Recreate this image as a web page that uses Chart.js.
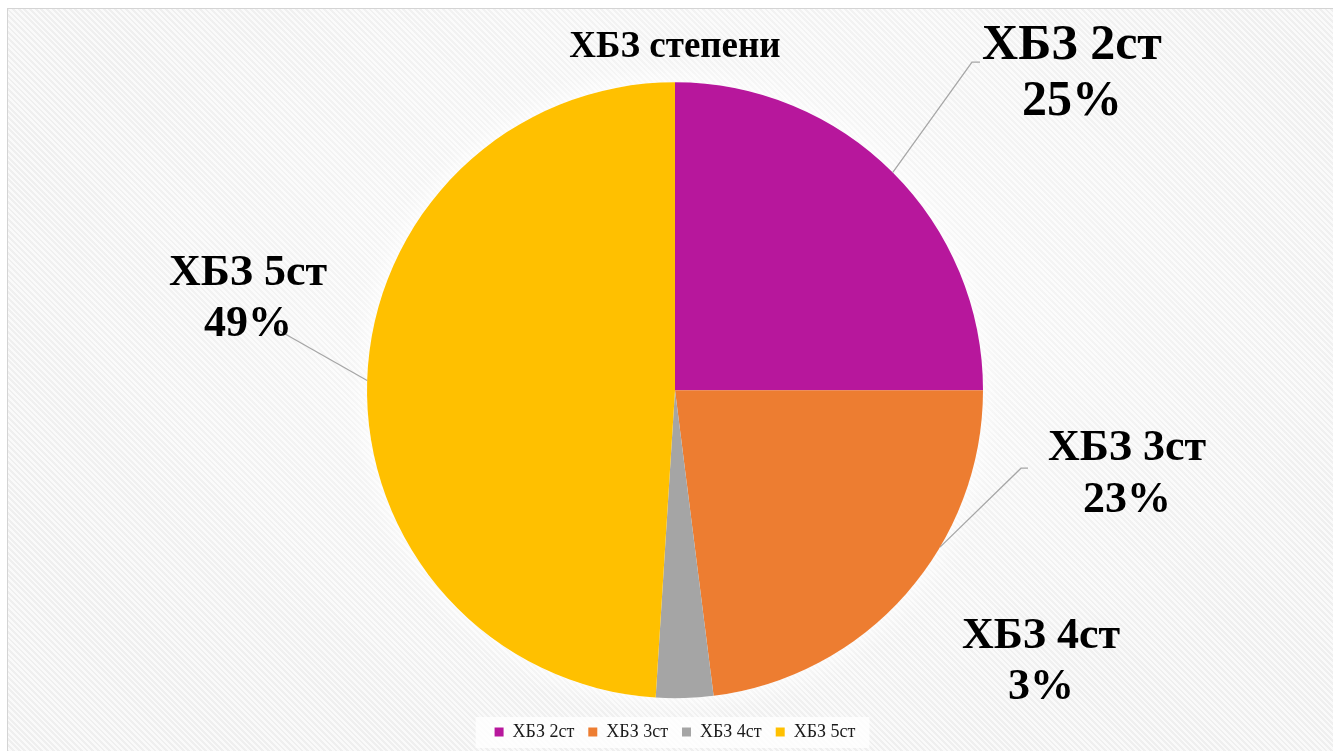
<!DOCTYPE html>
<html>
<head>
<meta charset="utf-8">
<script src="https://cdn.jsdelivr.net/npm/chart.js@4.4.1/dist/chart.umd.min.js"></script>
<style>
  html, body { margin: 0; padding: 0; background: #fff; overflow: hidden; }
  #wrap { position: relative; width: 1333px; height: 751px; }
  #frame {
    position: absolute; left: 7px; top: 8px; width: 1340px; height: 760px;
    border-left: 1px solid #d4d4d4; border-top: 1px solid #d4d4d4;
    background:
      radial-gradient(ellipse 55% 60% at 52% 40%, rgba(255,255,255,0.65), rgba(255,255,255,0) 100%),
      repeating-linear-gradient(45deg, #efefef 0px, #efefef 2px, #fafafa 2px, #fafafa 4px);
  }
  #cnv { position: absolute; left: 0; top: 0; }
</style>
</head>
<body>
<div id="wrap">
  <div id="frame"></div>
  <canvas id="cnv" width="1333" height="751"></canvas>
</div>
<script>
const categories = ['ХБЗ 2ст', 'ХБЗ 3ст', 'ХБЗ 4ст', 'ХБЗ 5ст'];
const shares = [25, 23, 3, 49];
const sliceColors = ['#B7179C', '#ED7D31', '#A5A5A5', '#FFC000'];

// where each outside label sits, relative to the pie centre;
// lead = elbow of the leader line (null = no line), along = where on the arc it starts
const labelSpots = [
  { dx: 397, dy: -344, size: 50, gap: 56, lead: [297, -328, 305], along: 0.5 },
  { dx: 452, dy: 58,   size: 44, gap: 52, lead: [346, 78, 353],   along: 0.37 },
  { dx: 366, dy: 246,  size: 44, gap: 51, lead: null,             along: 0.5 },
  { dx: -427, dy: -117, size: 44, gap: 51, lead: [-400, -62, -400], along: 0.5 }
];

const total = shares.reduce((a, b) => a + b, 0);
const serif = "'Liberation Serif', 'Times New Roman', serif";

// soft white halo behind the pie
const glowPlugin = {
  id: 'glow',
  beforeDatasetsDraw(chart) {
    const arc = chart.getDatasetMeta(0).data[0];
    if (!arc) return;
    const ctx = chart.ctx;
    ctx.save();
    ctx.shadowColor = 'rgba(255,255,255,1)';
    ctx.shadowBlur = 28;
    ctx.fillStyle = '#ffffff';
    ctx.beginPath();
    ctx.arc(arc.x, arc.y, arc.outerRadius, 0, Math.PI * 2);
    ctx.fill();
    ctx.restore();
  }
};

const legendBackPlugin = {
  id: 'legendBack',
  beforeDraw(chart) {
    const boxes = chart.legend && chart.legend.legendHitBoxes;
    if (!boxes || !boxes.length) return;
    const left = Math.min(...boxes.map(b => b.left)) - 19;
    const right = Math.max(...boxes.map(b => b.left + b.width)) + 14;
    const ctx = chart.ctx;
    ctx.save();
    ctx.fillStyle = 'rgba(255,255,255,0.8)';
    ctx.fillRect(left, 717, right - left, 31);
    ctx.restore();
  }
};

const outsideLabels = {
  id: 'outsideLabels',
  afterDatasetsDraw(chart) {
    const ctx = chart.ctx;
    const arcs = chart.getDatasetMeta(0).data;
    ctx.save();
    arcs.forEach((arc, i) => {
      const spot = labelSpots[i];
      const cx = arc.x, cy = arc.y;
      if (spot.lead) {
        const a = arc.startAngle + (arc.endAngle - arc.startAngle) * spot.along;
        const sx = cx + Math.cos(a) * arc.outerRadius;
        const sy = cy + Math.sin(a) * arc.outerRadius;
        ctx.strokeStyle = '#a6a6a6';
        ctx.lineWidth = 1.3;
        ctx.beginPath();
        ctx.moveTo(sx, sy);
        ctx.lineTo(cx + spot.lead[0], cy + spot.lead[1]);
        ctx.lineTo(cx + spot.lead[2], cy + spot.lead[1]);
        ctx.stroke();
      }
      const pct = Math.round(shares[i] / total * 100) + '%';
      ctx.fillStyle = '#000';
      ctx.textAlign = 'center';
      ctx.textBaseline = 'middle';
      ctx.font = `bold ${spot.size}px ${serif}`;
      ctx.fillText(categories[i], cx + spot.dx, cy + spot.dy);
      ctx.fillText(pct, cx + spot.dx, cy + spot.dy + spot.gap);
    });
    ctx.restore();
  }
};

const ctx = document.getElementById('cnv').getContext('2d');
new Chart(ctx, {
  type: 'pie',
  data: {
    labels: categories,
    datasets: [{
      data: shares,
      backgroundColor: sliceColors,
      borderWidth: 0
    }]
  },
  options: {
    responsive: false,
    animation: false,
    radius: 308,
    layout: { padding: { top: 0, bottom: 0, left: 17, right: 0 } },
    plugins: {
      title: {
        display: true,
        text: 'ХБЗ степени',
        color: '#000',
        font: { family: serif, size: 37, weight: 'bold' },
        padding: { top: 25, bottom: 2 }
      },
      legend: {
        position: 'bottom',
        labels: {
          boxWidth: 9,
          boxHeight: 9,
          padding: 14,
          color: '#1a1a1a',
          font: { family: serif, size: 18 }
        }
      },
      tooltip: { enabled: false }
    }
  },
  plugins: [glowPlugin, legendBackPlugin, outsideLabels]
});
</script>
</body>
</html>
